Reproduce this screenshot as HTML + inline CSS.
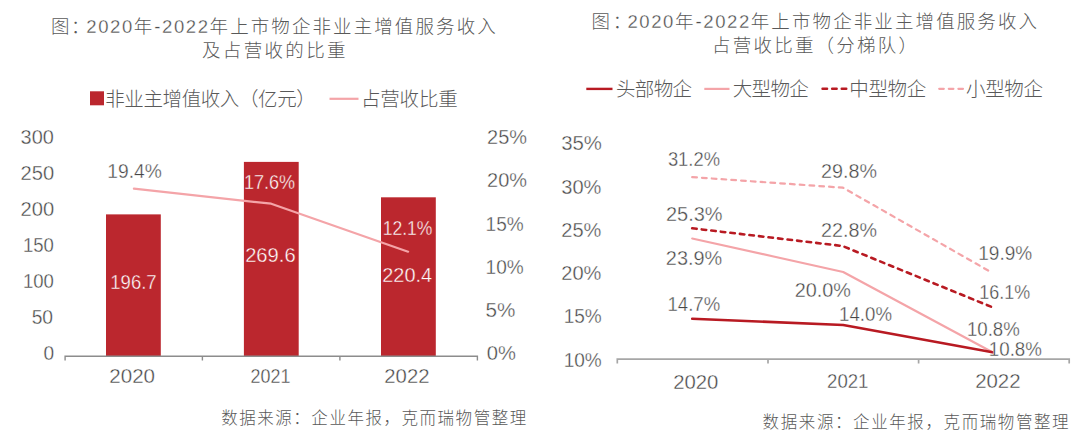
<!DOCTYPE html>
<html><head><meta charset="utf-8"><title>上市物企非业主增值服务收入</title>
<style>html,body{margin:0;padding:0;background:#fff;width:1080px;height:437px;overflow:hidden}svg{display:block}</style>
</head><body>
<svg width="1080" height="437" viewBox="0 0 1080 437">
<rect width="1080" height="437" fill="#fff"/>
<rect x="90" y="91.3" width="14" height="14" fill="#BB272E"/>
<line x1="329.5" y1="98.8" x2="358.5" y2="98.8" stroke="#F4A4A8" stroke-width="2.2"/>
<rect x="106" y="214.38" width="54.8" height="141.62" fill="#BB272E"/>
<rect x="243.9" y="161.89" width="54.8" height="194.11" fill="#BB272E"/>
<rect x="381" y="197.31" width="54.8" height="158.69" fill="#BB272E"/>
<path d="M65.1 360.6 V356.3 H477.4 V360.6 M202.4 356.3 V360.6 M339.9 356.3 V360.6" fill="none" stroke="#8C8C8C" stroke-width="1.4"/>
<polyline points="133.9,188.7 271.2,203.7 408.1,251.7" fill="none" stroke="#F4A4A8" stroke-width="2.2" stroke-linejoin="round" stroke-linecap="round"/>
<line x1="586.3" y1="88.9" x2="612.5" y2="88.9" stroke="#B81A22" stroke-width="2.4"/>
<line x1="704.3" y1="88.9" x2="729.5" y2="88.9" stroke="#F4A4A8" stroke-width="2.2"/>
<line x1="822.5" y1="88.8" x2="847.5" y2="88.8" stroke="#B81A22" stroke-width="2.4" stroke-dasharray="4.6 5" stroke-linecap="round"/>
<line x1="939.2" y1="88.8" x2="963.8" y2="88.8" stroke="#F4A4A8" stroke-width="2.2" stroke-dasharray="4.6 5" stroke-linecap="round"/>
<path d="M617.3 363.6 V359.1 H1069.2 V363.6 M768 359.1 V363.6 M918.6 359.1 V363.6" fill="none" stroke="#A6A6A6" stroke-width="1.7"/>
<polyline points="692.2,177.1 843.0,187.7 992.0,272.7" fill="none" stroke="#F4A4A8" stroke-width="2.2" stroke-linejoin="round" stroke-linecap="round" stroke-dasharray="4.7 5.1"/>
<polyline points="692.2,228.3 842.5,246.0 992.0,307.1" fill="none" stroke="#B81A22" stroke-width="2.6" stroke-linejoin="round" stroke-linecap="round" stroke-dasharray="4.5 5.1"/>
<polyline points="692.2,238.5 843.2,272.0 992.5,352.3" fill="none" stroke="#F4A4A8" stroke-width="2.2" stroke-linejoin="round" stroke-linecap="round"/>
<polyline points="692.2,318.8 843.2,325.0 992.5,352.3" fill="none" stroke="#B81A22" stroke-width="2.6" stroke-linejoin="round" stroke-linecap="round"/>
<text x="51.10" y="33.00" fill="#595959" style="font-family:'Liberation Sans', 'Noto Sans CJK SC', sans-serif;font-size:18.5px;font-weight:300;" textLength="38.42" lengthAdjust="spacing">图：</text>
<text x="86.30" y="33.00" fill="#595959" style="font-family:'Liberation Sans', 'Noto Sans CJK SC', sans-serif;font-size:18.5px;font-weight:300;" textLength="409.44" lengthAdjust="spacing"><tspan fill="#4d4d4d" stroke="#fff" stroke-width="0.3" style="letter-spacing:-0.5px">2020</tspan>年<tspan fill="#4d4d4d" stroke="#fff" stroke-width="0.3" style="letter-spacing:-0.5px">-2022</tspan>年上市物企非业主增值服务收入</text>
<text x="202.00" y="57.15" fill="#595959" style="font-family:'Liberation Sans', 'Noto Sans CJK SC', sans-serif;font-size:18.5px;font-weight:300;" textLength="143.52" lengthAdjust="spacing">及占营收的比重</text>
<text x="591.40" y="27.60" fill="#595959" style="font-family:'Liberation Sans', 'Noto Sans CJK SC', sans-serif;font-size:18.5px;font-weight:300;" textLength="39.82" lengthAdjust="spacing">图：</text>
<text x="627.40" y="27.60" fill="#595959" style="font-family:'Liberation Sans', 'Noto Sans CJK SC', sans-serif;font-size:18.5px;font-weight:300;" textLength="409.64" lengthAdjust="spacing"><tspan fill="#4d4d4d" stroke="#fff" stroke-width="0.3" style="letter-spacing:-0.5px">2020</tspan>年<tspan fill="#4d4d4d" stroke="#fff" stroke-width="0.3" style="letter-spacing:-0.5px">-2022</tspan>年上市物企非业主增值服务收入</text>
<text x="712.00" y="52.38" fill="#595959" style="font-family:'Liberation Sans', 'Noto Sans CJK SC', sans-serif;font-size:18.5px;font-weight:300;" textLength="205.02" lengthAdjust="spacing">占营收比重（分梯队）</text>
<text x="105.25" y="106.00" fill="#595959" style="font-family:'Liberation Sans', 'Noto Sans CJK SC', sans-serif;font-size:19.5px;font-weight:300;" textLength="210.52" lengthAdjust="spacing">非业主增值收入（亿元）</text>
<text x="361.00" y="106.30" fill="#595959" style="font-family:'Liberation Sans', 'Noto Sans CJK SC', sans-serif;font-size:19.5px;font-weight:300;" textLength="96.72" lengthAdjust="spacing">占营收比重</text>
<text x="616.00" y="96.00" fill="#595959" style="font-family:'Liberation Sans', 'Noto Sans CJK SC', sans-serif;font-size:19.5px;font-weight:300;" textLength="76.02" lengthAdjust="spacing">头部物企</text>
<text x="732.75" y="96.00" fill="#595959" style="font-family:'Liberation Sans', 'Noto Sans CJK SC', sans-serif;font-size:19.5px;font-weight:300;" textLength="76.02" lengthAdjust="spacing">大型物企</text>
<text x="849.25" y="96.00" fill="#595959" style="font-family:'Liberation Sans', 'Noto Sans CJK SC', sans-serif;font-size:19.5px;font-weight:300;" textLength="77.02" lengthAdjust="spacing">中型物企</text>
<text x="966.00" y="96.00" fill="#595959" style="font-family:'Liberation Sans', 'Noto Sans CJK SC', sans-serif;font-size:19.5px;font-weight:300;" textLength="77.02" lengthAdjust="spacing">小型物企</text>
<text x="43.60" y="359.70" fill="#454545" style="font-family:'Liberation Sans', 'Noto Sans CJK SC', sans-serif;font-size:19.5px;" textLength="10.63" lengthAdjust="spacingAndGlyphs" stroke="#fff" stroke-width="0.35">0</text>
<text x="31.67" y="323.70" fill="#454545" style="font-family:'Liberation Sans', 'Noto Sans CJK SC', sans-serif;font-size:19.5px;" textLength="21.43" lengthAdjust="spacingAndGlyphs" stroke="#fff" stroke-width="0.35">50</text>
<text x="22.91" y="287.70" fill="#454545" style="font-family:'Liberation Sans', 'Noto Sans CJK SC', sans-serif;font-size:19.5px;" textLength="30.93" lengthAdjust="spacingAndGlyphs" stroke="#fff" stroke-width="0.35">100</text>
<text x="22.91" y="251.70" fill="#454545" style="font-family:'Liberation Sans', 'Noto Sans CJK SC', sans-serif;font-size:19.5px;" textLength="30.93" lengthAdjust="spacingAndGlyphs" stroke="#fff" stroke-width="0.35">150</text>
<text x="20.56" y="215.70" fill="#454545" style="font-family:'Liberation Sans', 'Noto Sans CJK SC', sans-serif;font-size:19.5px;" textLength="33.63" lengthAdjust="spacingAndGlyphs" stroke="#fff" stroke-width="0.35">200</text>
<text x="20.56" y="179.70" fill="#454545" style="font-family:'Liberation Sans', 'Noto Sans CJK SC', sans-serif;font-size:19.5px;" textLength="33.63" lengthAdjust="spacingAndGlyphs" stroke="#fff" stroke-width="0.35">250</text>
<text x="20.60" y="143.70" fill="#454545" style="font-family:'Liberation Sans', 'Noto Sans CJK SC', sans-serif;font-size:19.5px;" textLength="33.21" lengthAdjust="spacingAndGlyphs" stroke="#fff" stroke-width="0.35">300</text>
<text x="486.69" y="360.00" fill="#454545" style="font-family:'Liberation Sans', 'Noto Sans CJK SC', sans-serif;font-size:19.5px;" textLength="29.18" lengthAdjust="spacingAndGlyphs" stroke="#fff" stroke-width="0.35">0%</text>
<text x="485.57" y="316.60" fill="#454545" style="font-family:'Liberation Sans', 'Noto Sans CJK SC', sans-serif;font-size:19.5px;" textLength="29.89" lengthAdjust="spacingAndGlyphs" stroke="#fff" stroke-width="0.35">5%</text>
<text x="485.59" y="274.20" fill="#454545" style="font-family:'Liberation Sans', 'Noto Sans CJK SC', sans-serif;font-size:19.5px;" textLength="38.09" lengthAdjust="spacingAndGlyphs" stroke="#fff" stroke-width="0.35">10%</text>
<text x="485.59" y="230.80" fill="#454545" style="font-family:'Liberation Sans', 'Noto Sans CJK SC', sans-serif;font-size:19.5px;" textLength="38.09" lengthAdjust="spacingAndGlyphs" stroke="#fff" stroke-width="0.35">15%</text>
<text x="487.05" y="187.40" fill="#454545" style="font-family:'Liberation Sans', 'Noto Sans CJK SC', sans-serif;font-size:19.5px;" textLength="39.93" lengthAdjust="spacingAndGlyphs" stroke="#fff" stroke-width="0.35">20%</text>
<text x="487.05" y="144.00" fill="#454545" style="font-family:'Liberation Sans', 'Noto Sans CJK SC', sans-serif;font-size:19.5px;" textLength="39.93" lengthAdjust="spacingAndGlyphs" stroke="#fff" stroke-width="0.35">25%</text>
<text x="109.33" y="383.10" fill="#454545" style="font-family:'Liberation Sans', 'Noto Sans CJK SC', sans-serif;font-size:19.5px;" textLength="45.70" lengthAdjust="spacingAndGlyphs" stroke="#fff" stroke-width="0.35">2020</text>
<text x="250.62" y="383.30" fill="#454545" style="font-family:'Liberation Sans', 'Noto Sans CJK SC', sans-serif;font-size:19.5px;" textLength="39.80" lengthAdjust="spacingAndGlyphs" stroke="#fff" stroke-width="0.35">2021</text>
<text x="384.34" y="383.00" fill="#454545" style="font-family:'Liberation Sans', 'Noto Sans CJK SC', sans-serif;font-size:19.5px;" textLength="45.11" lengthAdjust="spacingAndGlyphs" stroke="#fff" stroke-width="0.35">2022</text>
<text x="107.29" y="177.60" fill="#454545" style="font-family:'Liberation Sans', 'Noto Sans CJK SC', sans-serif;font-size:19.5px;" textLength="54.55" lengthAdjust="spacingAndGlyphs" stroke="#fff" stroke-width="0.35">19.4%</text>
<text x="243.90" y="189.30" fill="#fff" style="font-family:'Liberation Sans', 'Noto Sans CJK SC', sans-serif;font-size:19.5px;" textLength="51.18" lengthAdjust="spacingAndGlyphs" stroke="#BB272E" stroke-width="0.35">17.6%</text>
<text x="382.67" y="234.50" fill="#fff" style="font-family:'Liberation Sans', 'Noto Sans CJK SC', sans-serif;font-size:19.5px;" textLength="49.66" lengthAdjust="spacingAndGlyphs" stroke="#BB272E" stroke-width="0.35">12.1%</text>
<text x="110.34" y="288.70" fill="#fff" style="font-family:'Liberation Sans', 'Noto Sans CJK SC', sans-serif;font-size:19.5px;" textLength="46.33" lengthAdjust="spacingAndGlyphs" stroke="#BB272E" stroke-width="0.35">196.7</text>
<text x="245.15" y="262.10" fill="#fff" style="font-family:'Liberation Sans', 'Noto Sans CJK SC', sans-serif;font-size:19.5px;" textLength="50.48" lengthAdjust="spacingAndGlyphs" stroke="#BB272E" stroke-width="0.35">269.6</text>
<text x="382.26" y="281.70" fill="#fff" style="font-family:'Liberation Sans', 'Noto Sans CJK SC', sans-serif;font-size:19.5px;" textLength="49.89" lengthAdjust="spacingAndGlyphs" stroke="#BB272E" stroke-width="0.35">220.4</text>
<text x="221.20" y="423.70" fill="#595959" style="font-family:'Liberation Sans', 'Noto Sans CJK SC', sans-serif;font-size:16.5px;font-weight:300;" textLength="305.00" lengthAdjust="spacing">数据来源：企业年报，克而瑞物管整理</text>
<text x="563.70" y="367.00" fill="#454545" style="font-family:'Liberation Sans', 'Noto Sans CJK SC', sans-serif;font-size:19.5px;" textLength="38.06" lengthAdjust="spacingAndGlyphs" stroke="#fff" stroke-width="0.35">10%</text>
<text x="563.70" y="323.20" fill="#454545" style="font-family:'Liberation Sans', 'Noto Sans CJK SC', sans-serif;font-size:19.5px;" textLength="38.06" lengthAdjust="spacingAndGlyphs" stroke="#fff" stroke-width="0.35">15%</text>
<text x="561.24" y="280.40" fill="#454545" style="font-family:'Liberation Sans', 'Noto Sans CJK SC', sans-serif;font-size:19.5px;" textLength="40.13" lengthAdjust="spacingAndGlyphs" stroke="#fff" stroke-width="0.35">20%</text>
<text x="561.24" y="236.60" fill="#454545" style="font-family:'Liberation Sans', 'Noto Sans CJK SC', sans-serif;font-size:19.5px;" textLength="40.13" lengthAdjust="spacingAndGlyphs" stroke="#fff" stroke-width="0.35">25%</text>
<text x="561.24" y="193.80" fill="#454545" style="font-family:'Liberation Sans', 'Noto Sans CJK SC', sans-serif;font-size:19.5px;" textLength="40.13" lengthAdjust="spacingAndGlyphs" stroke="#fff" stroke-width="0.35">30%</text>
<text x="561.23" y="150.00" fill="#454545" style="font-family:'Liberation Sans', 'Noto Sans CJK SC', sans-serif;font-size:19.5px;" textLength="40.75" lengthAdjust="spacingAndGlyphs" stroke="#fff" stroke-width="0.35">35%</text>
<text x="673.23" y="388.50" fill="#454545" style="font-family:'Liberation Sans', 'Noto Sans CJK SC', sans-serif;font-size:19.5px;" textLength="45.11" lengthAdjust="spacingAndGlyphs" stroke="#fff" stroke-width="0.35">2020</text>
<text x="827.08" y="387.50" fill="#454545" style="font-family:'Liberation Sans', 'Noto Sans CJK SC', sans-serif;font-size:19.5px;" textLength="41.40" lengthAdjust="spacingAndGlyphs" stroke="#fff" stroke-width="0.35">2021</text>
<text x="975.17" y="387.50" fill="#454545" style="font-family:'Liberation Sans', 'Noto Sans CJK SC', sans-serif;font-size:19.5px;" textLength="45.43" lengthAdjust="spacingAndGlyphs" stroke="#fff" stroke-width="0.35">2022</text>
<text x="667.89" y="166.10" fill="#454545" style="font-family:'Liberation Sans', 'Noto Sans CJK SC', sans-serif;font-size:19.5px;" textLength="52.11" lengthAdjust="spacingAndGlyphs" stroke="#fff" stroke-width="0.35">31.2%</text>
<text x="821.05" y="177.70" fill="#454545" style="font-family:'Liberation Sans', 'Noto Sans CJK SC', sans-serif;font-size:19.5px;" textLength="55.97" lengthAdjust="spacingAndGlyphs" stroke="#fff" stroke-width="0.35">29.8%</text>
<text x="978.31" y="259.90" fill="#454545" style="font-family:'Liberation Sans', 'Noto Sans CJK SC', sans-serif;font-size:19.5px;" textLength="53.93" lengthAdjust="spacingAndGlyphs" stroke="#fff" stroke-width="0.35">19.9%</text>
<text x="665.98" y="221.40" fill="#454545" style="font-family:'Liberation Sans', 'Noto Sans CJK SC', sans-serif;font-size:19.5px;" textLength="56.55" lengthAdjust="spacingAndGlyphs" stroke="#fff" stroke-width="0.35">25.3%</text>
<text x="821.05" y="236.90" fill="#454545" style="font-family:'Liberation Sans', 'Noto Sans CJK SC', sans-serif;font-size:19.5px;" textLength="55.97" lengthAdjust="spacingAndGlyphs" stroke="#fff" stroke-width="0.35">22.8%</text>
<text x="979.29" y="298.50" fill="#454545" style="font-family:'Liberation Sans', 'Noto Sans CJK SC', sans-serif;font-size:19.5px;" textLength="50.82" lengthAdjust="spacingAndGlyphs" stroke="#fff" stroke-width="0.35">16.1%</text>
<text x="665.86" y="265.30" fill="#454545" style="font-family:'Liberation Sans', 'Noto Sans CJK SC', sans-serif;font-size:19.5px;" textLength="56.36" lengthAdjust="spacingAndGlyphs" stroke="#fff" stroke-width="0.35">23.9%</text>
<text x="794.74" y="297.20" fill="#454545" style="font-family:'Liberation Sans', 'Noto Sans CJK SC', sans-serif;font-size:19.5px;" textLength="56.19" lengthAdjust="spacingAndGlyphs" stroke="#fff" stroke-width="0.35">20.0%</text>
<text x="966.93" y="336.00" fill="#454545" style="font-family:'Liberation Sans', 'Noto Sans CJK SC', sans-serif;font-size:19.5px;" textLength="52.88" lengthAdjust="spacingAndGlyphs" stroke="#fff" stroke-width="0.35">10.8%</text>
<text x="667.54" y="311.00" fill="#454545" style="font-family:'Liberation Sans', 'Noto Sans CJK SC', sans-serif;font-size:19.5px;" textLength="52.67" lengthAdjust="spacingAndGlyphs" stroke="#fff" stroke-width="0.35">14.7%</text>
<text x="839.10" y="320.70" fill="#454545" style="font-family:'Liberation Sans', 'Noto Sans CJK SC', sans-serif;font-size:19.5px;" textLength="52.88" lengthAdjust="spacingAndGlyphs" stroke="#fff" stroke-width="0.35">14.0%</text>
<text x="988.83" y="355.70" fill="#454545" style="font-family:'Liberation Sans', 'Noto Sans CJK SC', sans-serif;font-size:19.5px;" textLength="53.06" lengthAdjust="spacingAndGlyphs" stroke="#fff" stroke-width="0.35">10.8%</text>
<text x="762.60" y="428.20" fill="#595959" style="font-family:'Liberation Sans', 'Noto Sans CJK SC', sans-serif;font-size:16.5px;font-weight:300;" textLength="306.00" lengthAdjust="spacing">数据来源：企业年报，克而瑞物管整理</text>
</svg>
</body></html>
